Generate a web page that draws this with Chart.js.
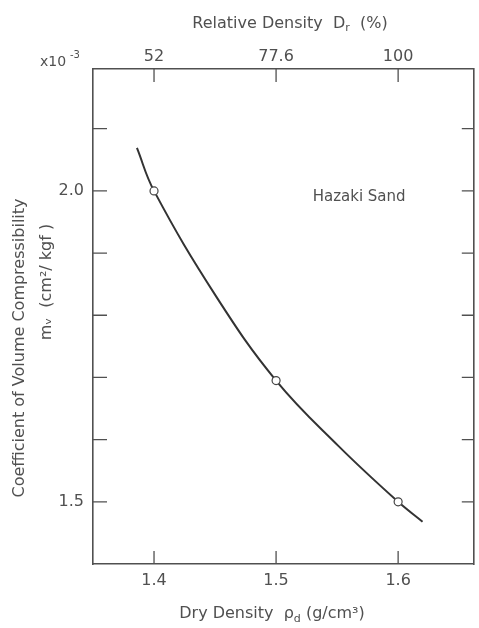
<!DOCTYPE html>
<html>
<head>
<meta charset="utf-8">
<script src="https://cdn.jsdelivr.net/npm/chart.js@4.4.0/dist/chart.umd.min.js"></script>
<style>
  html, body { margin: 0; padding: 0; background: #fff; }
  #wrap { width: 479px; height: 628px; }
</style>
</head>
<body>
<div id="wrap"><canvas id="chart"></canvas></div>
<script>
// measured points (open circles)
const dryDensity = [1.4, 1.5, 1.6];
const mvValues = [2.0, 1.695, 1.5];
// fitted curve
const curveX = [1.386, 1.4, 1.451, 1.5, 1.551, 1.6, 1.62];
const curveY = [2.069, 2.0, 1.83, 1.695, 1.59, 1.5, 1.468];
// top axis: relative density at the same dry densities
const relDensityLabels = ['52', '77.6', '100'];
const yTickValues = [1.5, 1.6, 1.7, 1.8, 1.9, 2.0, 2.1];
const yLabelled = [1.5, 2.0];

const ink = '#505050';
const font = '"DejaVu Sans", sans-serif';

// inward tick marks + loose text (x10^-3, titles, sample name)
const decorPlugin = {
  id: 'decor',
  afterDraw(chart) {
    const ctx = chart.ctx;
    const { x, y } = chart.scales;
    const a = chart.chartArea;
    ctx.save();
    ctx.strokeStyle = ink;
    ctx.lineWidth = 1.3;
    dryDensity.forEach(v => {
      const px = x.getPixelForValue(v);
      ctx.beginPath();
      ctx.moveTo(px, a.bottom); ctx.lineTo(px, a.bottom - 13);
      ctx.moveTo(px, a.top); ctx.lineTo(px, a.top + 13);
      ctx.stroke();
    });
    yTickValues.forEach(v => {
      const py = y.getPixelForValue(v);
      ctx.beginPath();
      ctx.moveTo(a.left, py); ctx.lineTo(a.left + 14, py);
      ctx.moveTo(a.right, py); ctx.lineTo(a.right - 12, py);
      ctx.stroke();
    });

    ctx.fillStyle = ink;
    ctx.textBaseline = 'middle';

    // x10^-3
    ctx.textAlign = 'left';
    ctx.font = '14px ' + font;
    ctx.fillText('x10', 40, 62);
    ctx.font = '10px ' + font;
    ctx.fillText('-3', 70, 55);

    // top title
    ctx.font = '16px ' + font;
    const t1 = 'Relative Density  D';
    const w1 = ctx.measureText(t1).width;
    ctx.font = '11px ' + font;
    const wr = ctx.measureText('r').width;
    ctx.font = '16px ' + font;
    const t2 = '  (%)';
    const w2 = ctx.measureText(t2).width;
    let sx = 290 - (w1 + wr + w2) / 2;
    ctx.fillText(t1, sx, 24);
    ctx.font = '11px ' + font;
    ctx.fillText('r', sx + w1, 28);
    ctx.font = '16px ' + font;
    ctx.fillText(t2, sx + w1 + wr, 24);

    // bottom title
    const b1 = 'Dry Density  \u03C1';
    const b2 = ' (g/cm\u00B3)';
    const wb1 = ctx.measureText(b1).width;
    ctx.font = '11px ' + font;
    const wd = ctx.measureText('d').width;
    ctx.font = '16px ' + font;
    const wb2 = ctx.measureText(b2).width;
    sx = 272 - (wb1 + wd + wb2) / 2;
    ctx.fillText(b1, sx, 614);
    ctx.font = '11px ' + font;
    ctx.fillText('d', sx + wb1, 619);
    ctx.font = '16px ' + font;
    ctx.fillText(b2, sx + wb1 + wd, 614);

    // y title, two lines
    ctx.save();
    ctx.translate(20, 348);
    ctx.rotate(-Math.PI / 2);
    ctx.textAlign = 'center';
    ctx.font = '16px ' + font;
    ctx.fillText('Coefficient of Volume Compressibility', 0, 0);
    ctx.restore();
    ctx.save();
    ctx.translate(47, 282);
    ctx.rotate(-Math.PI / 2);
    ctx.textAlign = 'center';
    ctx.font = '16px ' + font;
    ctx.fillText('m\u1D65  (cm\u00B2/ kgf )', 0, 0);
    ctx.restore();

    // sample name
    ctx.textAlign = 'left';
    ctx.font = '15px ' + font;
    ctx.fillText('Hazaki Sand', x.getPixelForValue(1.53), y.getPixelForValue(1.99));
    ctx.restore();
  }
};

const curvePoints = curveX.map((v, i) => ({ x: v, y: curveY[i] }));
const dataPoints = dryDensity.map((v, i) => ({ x: v, y: mvValues[i] }));

new Chart(document.getElementById('chart'), {
  type: 'scatter',
  data: {
    datasets: [
      {
        label: 'curve',
        data: curvePoints,
        showLine: true,
        borderColor: '#333',
        borderWidth: 2,
        pointRadius: 0,
        tension: 0.4,
        order: 2
      },
      {
        label: 'measured',
        data: dataPoints,
        pointRadius: 4,
        pointBackgroundColor: '#fff',
        pointBorderColor: '#444',
        pointBorderWidth: 1.2,
        order: 1
      }
    ]
  },
  options: {
    responsive: true,
    maintainAspectRatio: false,
    animation: false,
    layout: { padding: { top: 0, right: 2, bottom: 0, left: 0 } },
    plugins: { legend: { display: false }, tooltip: { enabled: false } },
    scales: {
      x: {
        type: 'linear', position: 'bottom', min: 1.35, max: 1.662,
        afterBuildTicks: s => { s.ticks = dryDensity.map(v => ({ value: v })); },
        afterFit: s => { s.height = 64; },
        grid: { drawOnChartArea: false, drawTicks: false },
        border: { color: ink, width: 1.6 },
        ticks: { padding: 7, color: ink, font: { family: font, size: 16 },
          callback: v => v.toFixed(1) }
      },
      x2: {
        type: 'linear', position: 'top', min: 1.35, max: 1.662,
        afterBuildTicks: s => { s.ticks = dryDensity.map(v => ({ value: v })); },
        afterFit: s => { s.height = 69; },
        grid: { drawOnChartArea: false, drawTicks: false },
        border: { color: ink, width: 1.6 },
        ticks: { padding: 3, color: ink, font: { family: font, size: 16 },
          callback: v => relDensityLabels[dryDensity.indexOf(+v.toFixed(1))] }
      },
      y: {
        type: 'linear', position: 'left', min: 1.4, max: 2.196,
        afterBuildTicks: s => { s.ticks = yLabelled.map(v => ({ value: v })); },
        afterFit: s => { s.width = 93; },
        grid: { drawOnChartArea: false, drawTicks: false },
        border: { color: ink, width: 1.6 },
        ticks: { padding: 9, color: ink, font: { family: font, size: 16 },
          callback: v => v.toFixed(1) }
      },
      y2: {
        type: 'linear', position: 'right', min: 1.4, max: 2.196,
        afterFit: s => { s.width = 0; },
        grid: { drawOnChartArea: false, drawTicks: false },
        border: { color: ink, width: 1.6 },
        ticks: { display: false }
      }
    }
  },
  plugins: [decorPlugin]
});
</script>
</body>
</html>
